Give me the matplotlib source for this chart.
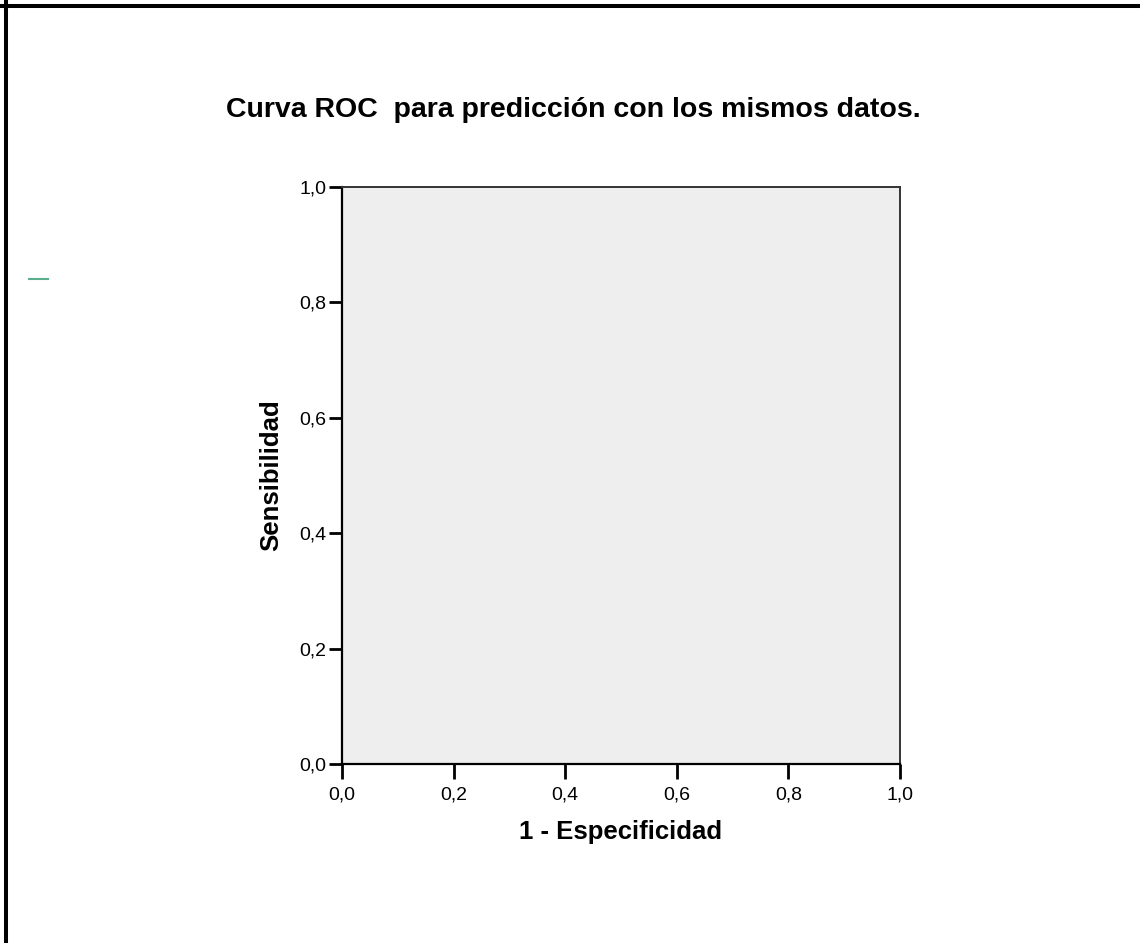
import matplotlib
matplotlib.use("Agg")
import matplotlib.pyplot as plt
from matplotlib.lines import Line2D

# chart data (empty ROC panel, only the axes are shown)
title = "Curva ROC  para predicción con los mismos datos."
x_label = "1 - Especificidad"
y_label = "Sensibilidad"
x_ticks = [0.0, 0.2, 0.4, 0.6, 0.8, 1.0]
y_ticks = [0.0, 0.2, 0.4, 0.6, 0.8, 1.0]
tick_labels = ["0,0", "0,2", "0,4", "0,6", "0,8", "1,0"]

plt.rcParams["font.family"] = ["Liberation Sans", "DejaVu Sans"]

W, H = 1140, 943
fig = plt.figure(figsize=(W / 100, H / 100), dpi=100)
fig.patch.set_facecolor("white")

ax = fig.add_axes([342 / W, 1 - 764 / H, (900 - 342) / W, (764 - 187) / H])
ax.set_facecolor("#eeeeee")
ax.set_xlim(0, 1)
ax.set_ylim(0, 1)
ax.set_xticks(x_ticks)
ax.set_yticks(y_ticks)
ax.set_xticklabels(tick_labels)
ax.set_yticklabels(tick_labels)
ax.tick_params(axis="both", direction="out", width=2, labelsize=14,
               colors="black")
ax.tick_params(axis="x", length=11, pad=5)
ax.tick_params(axis="y", length=9.5, pad=1.5)

for side in ["left", "bottom"]:
    ax.spines[side].set_linewidth(1.6)
    ax.spines[side].set_color("black")
for side in ["top", "right"]:
    ax.spines[side].set_linewidth(1.4)
    ax.spines[side].set_color("#333333")

ax.set_xlabel(x_label, fontsize=18.5, fontweight="bold", labelpad=12)
ax.set_ylabel(y_label, fontsize=18.5, fontweight="bold", labelpad=12)

fig.text(226 / W, 1 - 110 / H, title, ha="left", va="center",
         fontsize=20.5, fontweight="bold")

# outer frame (top and left edges only) and small green mark
fig.add_artist(Line2D([0, 1], [1 - 6 / H, 1 - 6 / H], transform=fig.transFigure,
                      color="black", linewidth=2.9))
fig.add_artist(Line2D([6 / W, 6 / W], [0, 1], transform=fig.transFigure,
                      color="black", linewidth=2.9))
fig.add_artist(Line2D([29 / W, 48 / W], [1 - 278.5 / H, 1 - 278.5 / H],
                      transform=fig.transFigure, color="#5aae8c", linewidth=1.5))

fig.savefig("out.png", dpi=100)
